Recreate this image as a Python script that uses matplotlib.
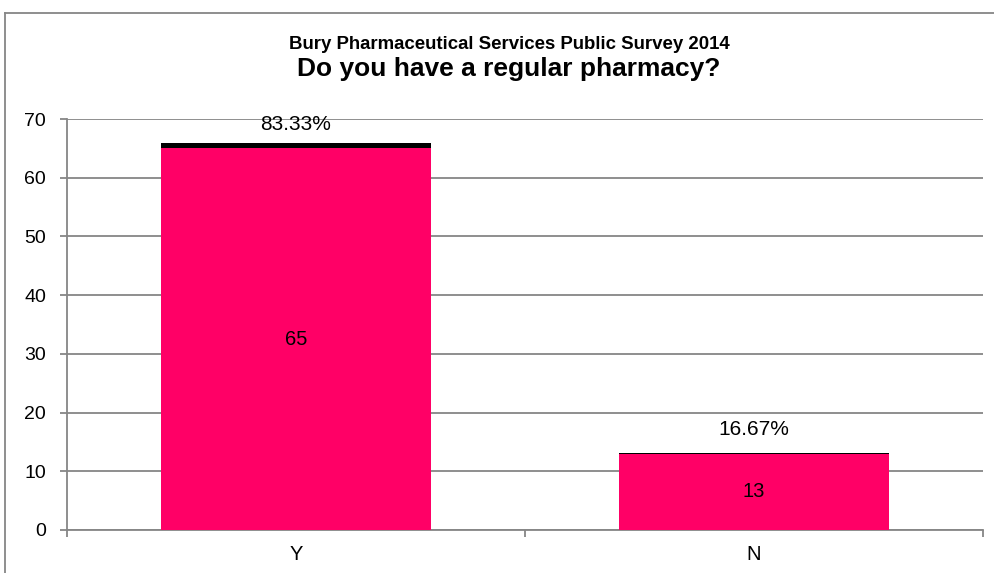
import matplotlib
matplotlib.use("Agg")
import matplotlib.pyplot as plt
from matplotlib.lines import Line2D

categories = ["Y", "N"]
counts = [65, 13]
shares = [0.8333, 0.1667]
share_labels = ["83.33%", "16.67%"]
yticks = [0, 10, 20, 30, 40, 50, 60, 70]
title1 = "Bury Pharmaceutical Services Public Survey 2014"
title2 = "Do you have a regular pharmacy?"

plt.rcParams["font.family"] = ["Liberation Sans", "DejaVu Sans"]

pink = "#FF0066"
grey = "#868686"

fig = plt.figure(figsize=(9.95, 5.73), dpi=100)
ax = fig.add_axes([67/995, 1-530/573, (983-67)/995, (530-119)/573])

x = list(range(len(categories)))
ax.bar(x, counts, width=0.59, color=pink, zorder=3)
ax.bar(x, shares, width=0.59, bottom=counts, color="black", zorder=3)

ax.set_xlim(-0.5, 1.5)
ax.set_ylim(0, 70)
ax.set_yticks(yticks)
ax.set_yticklabels([str(t) for t in yticks], fontsize=14)
ax.yaxis.grid(True, color=grey, linewidth=1.3, zorder=0)

ax.set_xticks([-0.5, 0.5, 1.5])
ax.set_xticklabels([])
ax.set_xticks(x, minor=True)
ax.set_xticklabels(categories, minor=True, fontsize=14.5)
ax.tick_params(axis="x", which="minor", length=0, pad=10.5)
ax.tick_params(axis="x", which="major", length=5, width=1.3, color=grey, direction="out")
ax.tick_params(axis="y", length=5, width=1.3, color=grey, direction="out", pad=10)

for s in ["top", "right"]:
    ax.spines[s].set_visible(False)
for s in ["left", "bottom"]:
    ax.spines[s].set_color(grey)
    ax.spines[s].set_linewidth(1.3)

for xi, c, s, lab in zip(x, counts, shares, share_labels):
    ax.text(xi, c / 2, str(c), ha="center", va="center", fontsize=14.5, zorder=4)
    ly = min(c + s + 3.95, 70 - 0.93)
    ax.text(xi, ly, lab, ha="center", va="center", fontsize=15, zorder=4)

t1 = fig.text(509/995, 1-49/573, title1, ha="center", va="baseline",
              fontsize=12, fontweight="bold")
t2 = fig.text(509/995, 1-76/573, title2, ha="center", va="baseline",
              fontsize=17, fontweight="bold")
fig.canvas.draw()
r = fig.canvas.get_renderer()
for t, target in ((t1, 440), (t2, 425)):
    w = t.get_window_extent(r).width
    t.set_fontsize(t.get_fontsize() * target / w)

# outer chart frame
fig.add_artist(Line2D([5/995, 1.0], [1-13/573, 1-13/573], transform=fig.transFigure, color=grey, linewidth=1.3))
fig.add_artist(Line2D([5/995, 5/995], [1-13/573, 0.0], transform=fig.transFigure, color=grey, linewidth=1.3))

fig.savefig("out.png", dpi=100)
